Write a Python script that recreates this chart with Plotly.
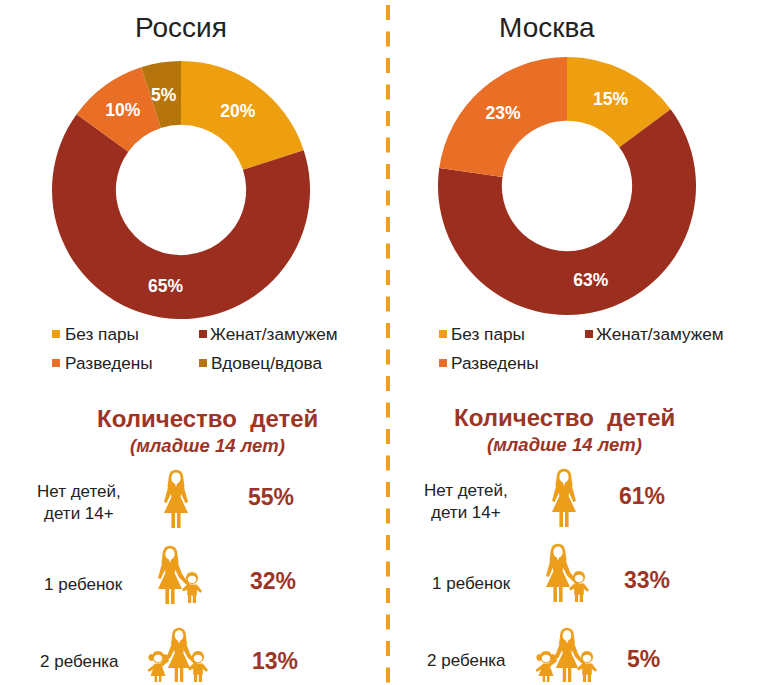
import math
import plotly.graph_objects as go

W, H = 770, 685

# ---- data ----
labels = ["Без пары", "Женат/замужем", "Разведены", "Вдовец/вдова"]
russia_values = [20, 65, 10, 5]
moscow_values = [15, 63, 23]
russia_title = "Россия"
moscow_title = "Москва"
kids_title = "Количество\u00a0\u00a0детей"
kids_subtitle = "(младше 14 лет)"
kids_labels = ["Нет детей,<br>дети 14+", "1 ребенок", "2 ребенка"]
russia_kids = [55, 32, 13]
moscow_kids = [61, 33, 5]

# ---- style ----
ORANGE = "#EE9F10"
RED = "#9B2E1E"
CORAL = "#E96E26"
BROWN = "#B6750C"
ICON = "#EC9E1B"
TXT_RED = "#9C3526"
TXT = "#222222"
FONT = "Liberation Sans"
colors = [ORANGE, RED, CORAL, BROWN]


def X(x):
    return x / W


def Y(y):
    return 1 - y / H


shapes = []
annotations = []


def text(x, y, t, size, color=TXT, anchor="center", bold=False, italic=False):
    if bold:
        t = "<b>" + t + "</b>"
    if italic:
        t = "<i>" + t + "</i>"
    annotations.append(dict(
        x=X(x), y=Y(y), xref="paper", yref="paper", text=t, showarrow=False,
        xanchor=anchor, yanchor="middle", align="center",
        font=dict(family=FONT, size=size, color=color),
    ))


def poly(points, ox, oy, s=1.0, fill=ICON, flip=False):
    sign = -1 if flip else 1
    parts = []
    for i, (px, py) in enumerate(points):
        cmd = "M" if i == 0 else "L"
        parts.append(f"{cmd}{X(ox + sign * px * s):.5f},{Y(oy + py * s):.5f}")
    shapes.append(dict(type="path", path=" ".join(parts) + " Z", xref="paper", yref="paper",
                       fillcolor=fill, line=dict(width=0), layer="above"))


def ell(cx, cy, rx, ry, n=28):
    return [(cx + rx * math.cos(2 * math.pi * i / n), cy + ry * math.sin(2 * math.pi * i / n)) for i in range(n)]


def woman(ox, oy, s=1.0, right_arm=None, left_arm=None):
    # hair
    poly(ell(0, 7, 7.2, 7.2), ox, oy, s)
    poly([(-7.2, 7), (7.2, 7), (8.6, 17), (3.5, 19), (-3.5, 19), (-8.6, 17)], ox, oy, s)
    # arms
    ra = right_arm or [(5, 15), (7.6, 16), (12, 32), (9.3, 33), (4.8, 23)]
    la = left_arm or [(-5, 15), (-7.6, 16), (-12, 32), (-9.3, 33), (-4.8, 23)]
    poly(ra, ox, oy, s)
    poly(la, ox, oy, s)
    # dress
    poly([(-5.6, 15), (5.6, 15), (5.6, 22), (4.6, 27), (12, 43), (-12, 43), (-4.6, 27), (-5.6, 22)], ox, oy, s)
    # legs
    poly([(-4.6, 42), (-1, 42), (-1, 58), (-4.6, 58)], ox, oy, s)
    poly([(1, 42), (4.6, 42), (4.6, 58), (1, 58)], ox, oy, s)
    # face
    poly(ell(0, 8, 4.6, 5.6), ox, oy, s, fill="#FFFFFF")
    poly([(-1.6, 12), (1.6, 12), (0, 17)], ox, oy, s, fill="#FFFFFF")


def boy(ox, oy, s=1.0, flip=False):
    # oy is top of head, child is 31 tall; inward arm goes towards -x
    poly(ell(0, 6, 6, 6), ox, oy, s, flip=flip)
    poly(ell(0, 7.4, 4.2, 3.7), ox, oy, s, fill="#FFFFFF", flip=flip)
    poly([(-4.8, 12.5), (4.8, 12.5), (4.8, 23.5), (-4.8, 23.5)], ox, oy, s, flip=flip)
    poly([(-4.8, 12.5), (-10, 17.5), (-8.6, 19.4), (-3.6, 17)], ox, oy, s, flip=flip)
    poly([(4.8, 12.5), (10, 19), (8.5, 20.8), (3.6, 17)], ox, oy, s, flip=flip)
    poly([(-4, 23), (-0.8, 23), (-0.8, 31), (-4, 31)], ox, oy, s, flip=flip)
    poly([(0.8, 23), (4, 23), (4, 31), (0.8, 31)], ox, oy, s, flip=flip)


def girl(ox, oy, s=1.0):
    poly(ell(0, 6, 6, 6), ox, oy, s)
    poly(ell(-6.8, 6.5, 2.8, 3.4), ox, oy, s)
    poly(ell(6.8, 6.5, 2.8, 3.4), ox, oy, s)
    poly(ell(0, 7.4, 4.2, 3.7), ox, oy, s, fill="#FFFFFF")
    poly([(-3, 12.5), (3, 12.5), (7.5, 25), (-7.5, 25)], ox, oy, s)
    poly([(2.4, 12.5), (10, 8), (11.2, 10), (3, 16.5)], ox, oy, s)
    poly([(-2.4, 12.5), (-10.5, 19), (-9, 21), (-3, 17)], ox, oy, s)
    poly([(-3.4, 24), (-0.9, 24), (-0.9, 31), (-3.4, 31)], ox, oy, s)
    poly([(0.9, 24), (3.4, 24), (3.4, 31), (0.9, 31)], ox, oy, s)


ARM_TO_RIGHT = [(5, 15), (7.6, 16), (12, 28), (21, 40), (19.5, 41.8), (9, 31.5), (4.8, 23)]
ARM_TO_LEFT = [(-5, 15), (-7.6, 16), (-12, 28), (-21, 40), (-19.5, 41.8), (-9, 31.5), (-4.8, 23)]


def legend_row(items):
    for sx, tx, y, label, col in items:
        shapes.append(dict(type="rect", xref="paper", yref="paper", x0=X(sx - 4), x1=X(sx + 4),
                           y0=Y(y + 4), y1=Y(y - 4), fillcolor=col, line=dict(width=0)))
        text(tx - 1.5, y, label, 17.2, anchor="left")


def pie(values, cols, cx, cy, r=129):
    return go.Pie(
        values=values,
        labels=labels[:len(values)],
        # the narrow slice gets its label from an annotation, so it stays where the reference has it
        text=[f"{v}%" if v >= 10 else "" for v in values],
        textinfo="text",
        textposition="inside",
        insidetextorientation="horizontal",
        insidetextfont=dict(family=FONT, size=17.5, color="#FFFFFF", weight="bold"),
        hole=0.505,
        sort=False,
        direction="clockwise",
        rotation=0,
        showlegend=False,
        hoverinfo="label+value",
        marker=dict(colors=cols, line=dict(width=0)),
        domain=dict(x=[X(cx - r), X(cx + r)], y=[Y(cy + r), Y(cy - r)]),
    )


fig = go.Figure()
fig.add_trace(pie(russia_values, colors, 181, 190))
fig.add_trace(pie(moscow_values, colors[:3], 567, 186))

text(164, 95, f"{russia_values[3]}%", 17.5, color="#FFFFFF", bold=True)

# divider
shapes.append(dict(type="line", xref="paper", yref="paper", x0=X(388), x1=X(388), y0=Y(5), y1=Y(685),
                   line=dict(color="#EBA024", width=4, dash="15px,11.5px")))

# titles
text(181, 27, russia_title, 28)
text(546.5, 27, moscow_title, 28)

# legends
legend_row([
    (56, 64, 334, labels[0], colors[0]),
    (203, 209, 334, labels[1], colors[1]),
    (56, 64, 363, labels[2], colors[2]),
    (203, 210, 363, labels[3], colors[3]),
    (443, 451, 334, labels[0], colors[0]),
    (589, 595, 334, labels[1], colors[1]),
    (443, 451, 363, labels[2], colors[2]),
])

# kids blocks
text(207.5, 418, kids_title, 24, color=TXT_RED, bold=True)
text(208, 445, kids_subtitle, 18.5, color=TXT_RED, bold=True, italic=True)
text(564, 417, kids_title, 24, color=TXT_RED, bold=True)
text(564, 444, kids_subtitle, 18.5, color=TXT_RED, bold=True, italic=True)

text(79, 502, kids_labels[0], 17)
text(83, 584, kids_labels[1], 17)
text(79, 661, kids_labels[2], 17)
text(466, 501, kids_labels[0], 17)
text(471, 583, kids_labels[1], 17)
text(466, 660, kids_labels[2], 17)

text(271, 497, f"{russia_kids[0]}%", 23, color=TXT_RED, bold=True)
text(273, 581, f"{russia_kids[1]}%", 23, color=TXT_RED, bold=True)
text(275, 661, f"{russia_kids[2]}%", 23, color=TXT_RED, bold=True)
text(642, 496, f"{moscow_kids[0]}%", 23, color=TXT_RED, bold=True)
text(647, 580, f"{moscow_kids[1]}%", 23, color=TXT_RED, bold=True)
text(643, 659, f"{moscow_kids[2]}%", 23, color=TXT_RED, bold=True)

# icons
woman(176, 470)
woman(170, 546, right_arm=ARM_TO_RIGHT)
boy(192, 572)
woman(179, 628, s=0.93, right_arm=ARM_TO_RIGHT, left_arm=ARM_TO_LEFT)
girl(158, 651)
boy(198, 651)

woman(564, 469)
woman(558, 544, right_arm=ARM_TO_RIGHT)
boy(579, 571)
woman(567, 628, s=0.93, right_arm=ARM_TO_RIGHT, left_arm=ARM_TO_LEFT)
girl(546, 651)
boy(587, 651)

fig.update_layout(
    width=W, height=H,
    margin=dict(l=0, r=0, t=0, b=0),
    paper_bgcolor="#FFFFFF",
    plot_bgcolor="#FFFFFF",
    font=dict(family=FONT),
    shapes=shapes,
    annotations=annotations,
    showlegend=False,
)

fig.write_html("out.html", config=dict(displayModeBar=False),
               post_script="document.body.style.margin='0';document.documentElement.style.overflow='hidden';")
